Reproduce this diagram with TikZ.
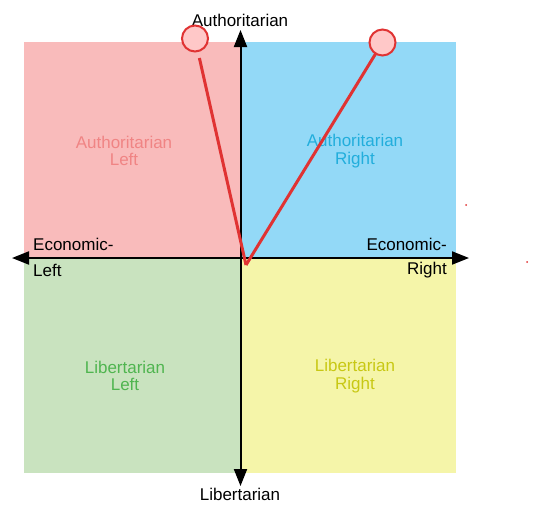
\documentclass[tikz,border=0pt]{standalone}
\usepackage{fontspec}
\setmainfont{Liberation Sans}
\usetikzlibrary{arrows.meta}
\definecolor{alfill}{HTML}{F9BBBB}
\definecolor{arfill}{HTML}{93D9F7}
\definecolor{llfill}{HTML}{C9E3BF}
\definecolor{lrfill}{HTML}{F5F5A9}
\definecolor{altext}{HTML}{F08484}
\definecolor{artext}{HTML}{22AEDC}
\definecolor{lltext}{HTML}{50B550}
\definecolor{lrtext}{HTML}{C8C814}
\definecolor{pointred}{HTML}{E03333}
\definecolor{pointfill}{HTML}{FFC8C8}
\tikzset{
  quad/.style={draw=none, minimum width=216pt, minimum height=215.5pt, inner sep=0pt},
  qlabel/.style={font=\fontsize{17}{17.5}\selectfont, align=center, inner sep=0pt},
  axlabel/.style={font=\fontsize{17}{18}\selectfont, inner sep=0pt},
  axis/.style={line width=2pt, black, -{Triangle[length=17pt,width=13pt]}},
  vote/.style={circle, draw=pointred, fill=pointfill, line width=2pt, minimum size=26pt, inner sep=0pt},
  voteline/.style={pointred, line width=3pt},
}
\begin{document}
\begin{tikzpicture}[x=1pt,y=-1pt]
\useasboundingbox (0,0) rectangle (537,520);
% quadrants
\node[quad, fill=alfill, anchor=north west] (al) at (24,42) {};
\node[quad, fill=arfill, anchor=north east] (ar) at (456,42) {};
\node[quad, fill=llfill, anchor=south west] (ll) at (24,473) {};
\node[quad, fill=lrfill, anchor=south east] (lr) at (456,473) {};
% quadrant labels
\node[qlabel, text=altext] (altxt) at (124,151) {Authoritarian\\Left};
\node[qlabel, text=artext] (artxt) at (355,151) {Authoritarian\\Right};
\node[qlabel, text=lltext] (lltxt) at (125,376) {Libertarian\\Left};
\node[qlabel, text=lrtext] (lrtxt) at (355,376) {Libertarian\\Right};
% axes
\coordinate (xl) at (12,258);
\coordinate (xr) at (469,258);
\coordinate (yt) at (240.5,30);
\coordinate (yb) at (240.5,486);
\coordinate (xc) at (240.5,258);
\draw[axis] (xc) -- (xl);
\draw[axis] (xc) -- (xr);
\draw[axis] (xc) -- (yt);
\draw[axis] (xc) -- (yb);
% axis labels
\node[axlabel] (top) at (240,20) {Authoritarian};
\node[axlabel] (bot) at (240,494) {Libertarian};
\node[axlabel, anchor=west] (el1) at (33,244) {Economic-};
\node[axlabel, anchor=west] (el2) at (33,270) {Left};
\node[axlabel, anchor=east] (er1) at (447,244) {Economic-};
\node[axlabel, anchor=east] (er2) at (447,270) {Right};
% votes
\coordinate (v) at (246,265);
\coordinate (c2c) at (382.5,42.5);
\draw[voteline] (v) -- (c2c);
\node[vote] (c2) at (c2c) {};
\node[vote] (c1) at (195,38.5) {};
\draw[voteline, shorten >=6pt] (v) -- (c1);
% stray dots
\fill[pointred] (466,205) circle (1pt);
\fill[pointred] (527,262) circle (1pt);
\end{tikzpicture}
\end{document}
